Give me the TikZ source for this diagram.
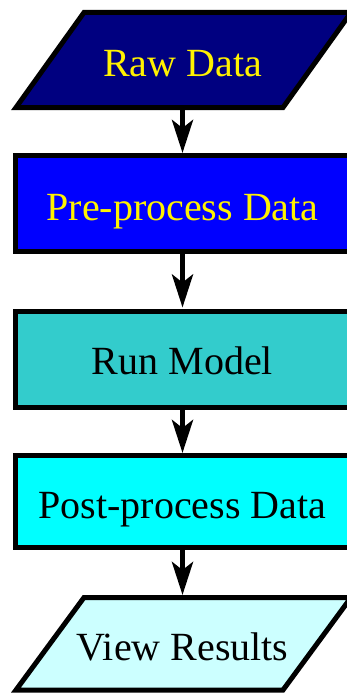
\documentclass[tikz,border=0pt]{standalone}
\usepackage{fontspec}
\setmainfont{Liberation Serif}
\usetikzlibrary{arrows.meta}
\definecolor{rawfill}{HTML}{000080}
\definecolor{prefill}{HTML}{0000FF}
\definecolor{runfill}{HTML}{33CCCC}
\definecolor{postfill}{HTML}{00FFFF}
\definecolor{viewfill}{HTML}{CCFFFF}

\begin{document}
\begin{tikzpicture}[x=1pt,y=-1pt,
  outline/.style={draw=black,line width=5pt},
  label/.style={minimum width=200pt,text height=33pt,text depth=0pt,
    inner sep=0pt,outer sep=2.5pt,font=\fontsize{40}{48}\selectfont},
  flow/.style={line width=5pt,-{Stealth[length=33pt,width=21pt,inset=8pt]}}]
\useasboundingbox (0,0) rectangle (346,693);
\filldraw[outline,fill=rawfill] (16,107.5) -- (84,12.5) -- (351,12.5) -- (283,107.5) -- cycle;
\filldraw[outline,fill=prefill] (15.5,155.5) rectangle (400,251.5);
\filldraw[outline,fill=runfill] (15.5,311.5) rectangle (400,407.5);
\filldraw[outline,fill=postfill] (15.5,455.5) rectangle (400,547.5);
\filldraw[outline,fill=viewfill] (16,690) -- (84,597.5) -- (351,597.5) -- (283,690) -- cycle;
\node[label,minimum height=95pt,text=yellow] (raw) at (182.5,60) {Raw Data};
\node[label,minimum height=96pt,text=yellow] (pre) at (182.5,203.5) {Pre-process Data};
\node[label,minimum height=96pt] (run) at (182.5,358) {Run Model};
\node[label,minimum height=92pt] (post) at (182.5,501.5) {Post-process Data};
\node[label,minimum height=92.5pt] (view) at (182.5,643.75) {View Results};
\draw[flow] (raw) -- (pre);
\draw[flow] (pre) -- (run);
\draw[flow] (run) -- (post);
\draw[flow] (post) -- (view);
\end{tikzpicture}
\end{document}
